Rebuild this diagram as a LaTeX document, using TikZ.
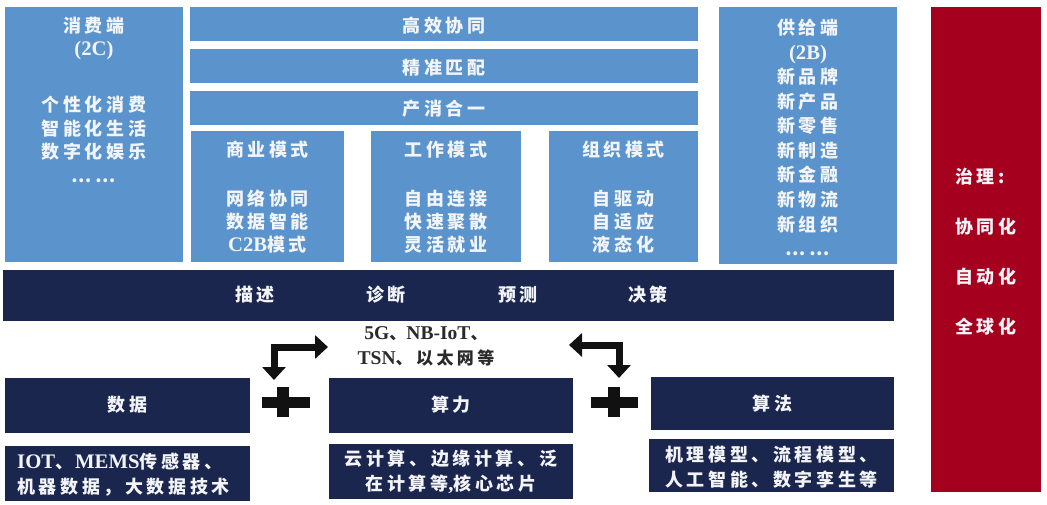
\documentclass[tikz,border=0pt]{standalone}
\usepackage{fontspec}
\setmainfont{Liberation Serif}
\newfontfamily\cjk{Noto Sans CJK SC}[LetterSpace=20]
\newfontfamily\latf{Liberation Serif}[Scale=1.15]
\newcommand\latn[1]{{\latf #1}}
\usetikzlibrary{arrows.meta}
\definecolor{lblue}{HTML}{5B94CC}
\definecolor{navy}{HTML}{1B264E}
\definecolor{dred}{HTML}{A5001E}
\definecolor{ink}{HTML}{2A2A2A}
\definecolor{blk}{HTML}{111111}
\definecolor{wtxt}{HTML}{F2F4F8}
\begin{document}
\begin{tikzpicture}[x=1pt,y=-1pt,
  box/.style={rectangle, inner sep=0pt, outer sep=0pt, anchor=north west, draw=none},
  bluebox/.style={box, fill=lblue},
  navybox/.style={box, fill=navy},
  redbox/.style={box, fill=dred},
  wt/.style={text=wtxt, inner sep=0pt, align=center, font=\cjk\bfseries\fontsize{18}{#1}\selectfont},
  wt/.default=23,
  dt/.style={text=ink, inner sep=0pt, align=center, font=\cjk\bfseries\fontsize{17}{#1}\selectfont},
  dt/.default=25,
  bigarr/.style={draw=blk, line width=7pt, line join=miter,
    arrows={Triangle[width=23pt,length=13pt]-Triangle[width=23pt,length=13pt]}},
  plus/.style={fill=blk}
]
\useasboundingbox (0,0) rectangle (1047,504);
\fill[white] (0,0) rectangle (1047,504);

% upper blue area
\node[bluebox, minimum width=178pt, minimum height=255pt] (c2c) at (5,7) {};
\node[bluebox, minimum width=508pt, minimum height=34pt] (top1) at (190,7) {};
\node[bluebox, minimum width=508pt, minimum height=34pt] (top2) at (190,49) {};
\node[bluebox, minimum width=508pt, minimum height=34pt] (top3) at (190,91) {};
\node[bluebox, minimum width=153pt, minimum height=131pt] (biz) at (191,131) {};
\node[bluebox, minimum width=150pt, minimum height=131pt] (work) at (371,131) {};
\node[bluebox, minimum width=149pt, minimum height=131pt] (org) at (549,131) {};
\node[bluebox, minimum width=178pt, minimum height=257pt] (c2b) at (719,7) {};
\node[redbox, minimum width=110pt, minimum height=485pt] (gov) at (931,7) {};

% dark band and bottom boxes
\node[navybox, minimum width=891pt, minimum height=51pt] (band) at (3,270) {};
\node[navybox, minimum width=245pt, minimum height=55pt] (data) at (5,378) {};
\node[navybox, minimum width=245pt, minimum height=55pt] (datad) at (5,446) {};
\node[navybox, minimum width=244pt, minimum height=55pt] (comp) at (329,378) {};
\node[navybox, minimum width=244pt, minimum height=55pt] (compd) at (329,444) {};
\node[navybox, minimum width=243pt, minimum height=53pt] (algo) at (651,377) {};
\node[navybox, minimum width=245pt, minimum height=53pt] (algod) at (649,439) {};

% texts in blue boxes
\node[wt] (c2ct) at (94,38.5) {消费端\\\latn{(2C)}};
\node[wt=23.7] (c2cl) at (94,139.5) {个性化消费\\智能化生活\\数字化娱乐\\……};
\node[wt] (t1t) at (444,26) {高效协同};
\node[wt] (t2t) at (444,68) {精准匹配};
\node[wt] (t3t) at (444,109) {产消合一};
\node[wt] (bizt) at (267.5,150) {商业模式};
\node[wt] (bizl) at (267.5,222) {网络协同\\数据智能\\\latn{C2B}模式};
\node[wt] (workt) at (446,150) {工作模式};
\node[wt] (workl) at (446,222) {自由连接\\快速聚散\\灵活就业};
\node[wt] (orgt) at (623.5,150) {组织模式};
\node[wt] (orgl) at (623.5,222) {自驱动\\自适应\\液态化};
\node[wt=24.55] (c2bl) at (808,137.5) {供给端\\\latn{(2B)}\\新品牌\\新产品\\新零售\\新制造\\新金融\\新物流\\新组织\\……};
\node[wt=50, align=left] (govl) at (986,252) {治理:\\协同化\\自动化\\全球化};

% band texts
\node[wt] (b1) at (255,295) {描述};
\node[wt] (b2) at (386,295) {诊断};
\node[wt] (b3) at (518,295) {预测};
\node[wt] (b4) at (648,295) {决策};

% bottom texts
\node[wt] (datat) at (127.5,405) {数据};
\node[wt] (compt) at (451,405) {算力};
\node[wt] (algot) at (772.5,403.5) {算法};
\node[wt=25, align=left, anchor=west] (datadt) at (17,474.5) {\latn{IOT}、\hspace{2pt}\latn{MEMS}传感器、\\机器数据，大数据技术};
\node[wt=25] (compdt) at (451,472) {云计算、边缘计算、泛\\在计算等\latn{,}核心芯片};
\node[wt=25] (algodt) at (771.5,467.5) {机理模型、流程模型、\\人工智能、数字孪生等};

% network label
\node[dt] (net) at (426,346.5) {\latn{5G}、\latn{NB-IoT}、\\\latn{TSN}、以太网等};

% arrows
\coordinate (a1r) at (328,347);
\coordinate (a1c) at (274,347);
\coordinate (a1d) at (274,380);
\draw[bigarr] (a1r) -- (a1c) -- (a1d);
\coordinate (a2l) at (569,345);
\coordinate (a2c) at (619,345);
\coordinate (a2d) at (619,378);
\draw[bigarr] (a2l) -- (a2c) -- (a2d);

% plus signs
\fill[plus] (262,397) rectangle (310,408);
\fill[plus] (277,387) rectangle (289,417);
\fill[plus] (591,397) rectangle (638,408);
\fill[plus] (608,387) rectangle (620,417);
\end{tikzpicture}
\end{document}
